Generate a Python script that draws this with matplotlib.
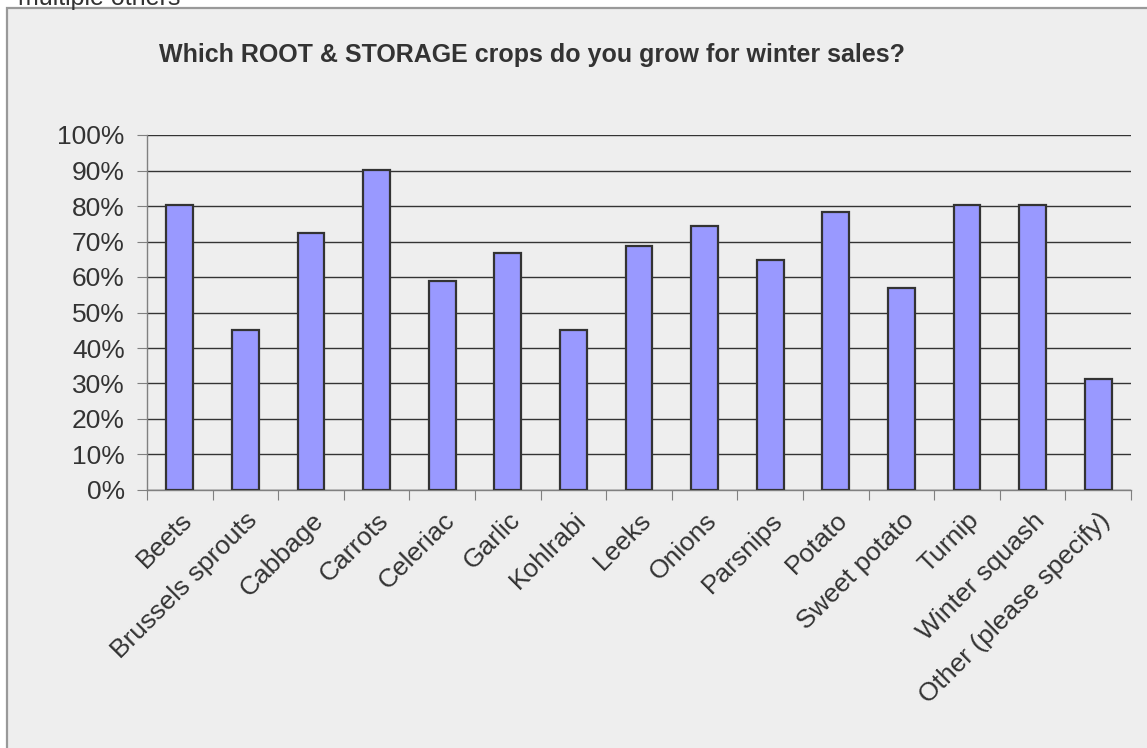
import matplotlib.pyplot as plt
from matplotlib.patches import Rectangle
from matplotlib.ticker import PercentFormatter

# survey answers, share of growers per crop
crops = ["Beets", "Brussels sprouts", "Cabbage", "Carrots", "Celeriac", "Garlic",
         "Kohlrabi", "Leeks", "Onions", "Parsnips", "Potato", "Sweet potato",
         "Turnip", "Winter squash", "Other (please specify)"]
share = [0.804, 0.451, 0.725, 0.902, 0.588, 0.667, 0.451, 0.686, 0.745,
         0.647, 0.784, 0.569, 0.804, 0.804, 0.314]

plt.rcParams['font.family'] = ['Liberation Sans', 'DejaVu Sans']
txt = '#333333'

W, H = 1147, 748
fig = plt.figure(figsize=(W / 100, H / 100), dpi=100, facecolor='white')

# chart frame (grey panel with border)
fig.patches.append(Rectangle((7 / W, -0.1), 1.2, 1 - 8 / H + 0.1, transform=fig.transFigure,
                             facecolor='#EEEEEE', edgecolor='#999999', linewidth=1.6, zorder=-5))
fig.text(18 / W, 1 - 5 / H, "multiple others", fontsize=18, color=txt, va='baseline', ha='left')

ax = fig.add_axes([147 / W, 1 - 490 / H, (1131 - 147) / W, (490 - 135) / H])
ax.set_zorder(2)
ax.set_facecolor('none')

x = list(range(len(crops)))
ax.bar(x, share, width=0.41, color='#9999FF', edgecolor='#333333', linewidth=1.6, zorder=3)

ax.set_xlim(-0.5, len(crops) - 0.5)
ax.set_ylim(0, 1)
ax.set_yticks([i / 10 for i in range(11)])
ax.yaxis.set_major_formatter(PercentFormatter(1.0, decimals=0))
ax.grid(axis='y', color='#333333', linewidth=1)
ax.set_axisbelow(True)

for s in ['top', 'right']:
    ax.spines[s].set_visible(False)
for s in ['left', 'bottom']:
    ax.spines[s].set_color('#808080')
    ax.spines[s].set_linewidth(1)

ax.set_xticks([i + 0.5 for i in range(-1, len(crops))], minor=False)
ax.set_xticklabels([])
ax.set_xticks(x, minor=True)
ax.set_xticklabels(crops, minor=True, rotation=45, ha='right', va='top',
                   rotation_mode='anchor', fontsize=19, color=txt)
ax.tick_params(axis='x', which='minor', length=0, pad=13)
ax.tick_params(axis='x', which='major', length=7, color='#808080', direction='out')
ax.tick_params(axis='y', length=7, color='#808080', labelsize=19, labelcolor=txt, pad=9)

fig.text(532 / W, 1 - 55 / H, "Which ROOT & STORAGE crops do you grow for winter sales?",
         fontsize=18, fontweight='bold', color=txt, ha='center', va='center')

fig.savefig('out.png', dpi=100, facecolor=fig.get_facecolor())
